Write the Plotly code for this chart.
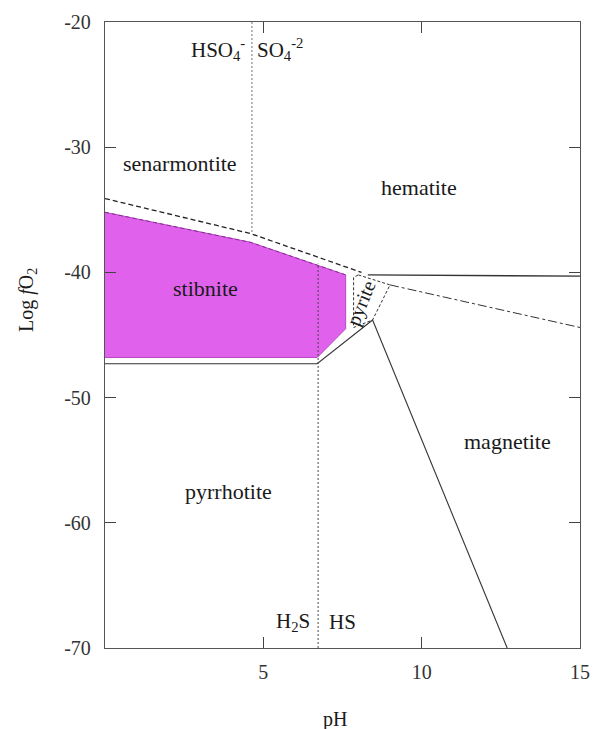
import plotly.graph_objects as go

# ---- data (pH, log fO2) ----
stibnite_ph = [0, 4.6, 7.6, 7.6, 6.7, 0]
stibnite_fo2 = [-35.2, -37.6, -40.2, -44.5, -46.8, -46.8]

senarm_ph = [0, 4.6, 8.1]
senarm_fo2 = [-34.1, -36.9, -40.0]

pyrrh_ph = [0, 6.7, 8.45]
pyrrh_fo2 = [-47.3, -47.3, -43.8]

magnet_ph = [8.45, 12.7]
magnet_fo2 = [-43.8, -70]

hemmag_ph = [8.3, 15]
hemmag_fo2 = [-40.2, -40.3]

pyrite_ph = [8.0, 9.0, 8.45, 7.85, 7.85, 8.0]
pyrite_fo2 = [-40.2, -41.0, -43.8, -44.4, -40.4, -40.2]

dashdot_ph = [9.0, 15]
dashdot_fo2 = [-41.0, -44.4]

hso4_ph = [4.64, 4.64]
hso4_fo2 = [-20, -36.9]

h2s_ph = [6.73, 6.73]
h2s_fo2 = [-70, -39.3]

labels = ["senarmontite", "hematite", "stibnite", "magnetite", "pyrrhotite"]
label_ph = [2.37, 9.9, 3.16, 12.7, 3.9]
label_fo2 = [-31.3, -33.2, -41.25, -53.5, -57.5]

x_ticks = [5, 10, 15]
x_ticktext = ["5", "10", "15"]
y_ticks = [-20, -30, -40, -50, -60, -70]
y_ticktext = ["-20", "-30", "-40", "-50", "-60", "-70"]

SERIF = "Liberation Serif"
TXT = "#1a1a1a"
fig = go.Figure()

fig.add_trace(go.Scatter(x=stibnite_ph, y=stibnite_fo2, fill="toself", fillcolor="#e062ec",
                         mode="lines", line=dict(color="#b848c4", width=1),
                         hoverinfo="skip", showlegend=False))
fig.add_trace(go.Scatter(x=stibnite_ph[:3], y=stibnite_fo2[:3], mode="lines",
                         line=dict(color="#8a2a94", width=1, dash="4px,3px"), showlegend=False))
fig.add_trace(go.Scatter(x=senarm_ph, y=senarm_fo2, mode="lines",
                         line=dict(color="#222", width=1.3, dash="5px,3px"), showlegend=False))
fig.add_trace(go.Scatter(x=pyrrh_ph, y=pyrrh_fo2, mode="lines",
                         line=dict(color="#333", width=1.1), showlegend=False))
fig.add_trace(go.Scatter(x=magnet_ph, y=magnet_fo2, mode="lines",
                         line=dict(color="#333", width=1.1), showlegend=False))
fig.add_trace(go.Scatter(x=hemmag_ph, y=hemmag_fo2, mode="lines",
                         line=dict(color="#333", width=1.4), showlegend=False))
fig.add_trace(go.Scatter(x=pyrite_ph, y=pyrite_fo2, mode="lines",
                         line=dict(color="#333", width=1, dash="3px,2px"), showlegend=False))
fig.add_trace(go.Scatter(x=dashdot_ph, y=dashdot_fo2, mode="lines",
                         line=dict(color="#333", width=1, dash="dashdot"), showlegend=False))
fig.add_trace(go.Scatter(x=hso4_ph, y=hso4_fo2, mode="lines",
                         line=dict(color="#777", width=1, dash="2px,2px"), showlegend=False))
fig.add_trace(go.Scatter(x=h2s_ph, y=h2s_fo2, mode="lines",
                         line=dict(color="#444", width=1, dash="2px,2px"), showlegend=False))

for t, px, py in zip(labels, label_ph, label_fo2):
    fig.add_annotation(x=px, y=py, text=t, showarrow=False,
                       font=dict(family=SERIF, size=22, color=TXT))

fig.add_annotation(x=8.11, y=-42.44, text="pyrite", textangle=-68, showarrow=False,
                   font=dict(family=SERIF, size=20, color=TXT))
fig.add_annotation(x=4.48, y=-22.2, text="HSO<sub>4</sub><sup>-</sup>", xanchor="right",
                   showarrow=False, font=dict(family=SERIF, size=21, color=TXT))
fig.add_annotation(x=4.74, y=-22.2, text="SO<sub>4</sub><sup>-2</sup>", xanchor="left",
                   showarrow=False, font=dict(family=SERIF, size=21, color=TXT))
fig.add_annotation(x=6.54, y=-67.9, text="H<sub>2</sub>S", xanchor="right",
                   showarrow=False, font=dict(family=SERIF, size=21, color=TXT))
fig.add_annotation(x=7.0, y=-67.9, text="HS", xanchor="left",
                   showarrow=False, font=dict(family=SERIF, size=21, color=TXT))

fig.add_annotation(xref="paper", yref="paper", x=-0.162, y=0.556,
                   xanchor="center", yanchor="middle",
                   text="Log <i>f</i>O<sub>2</sub>", textangle=-90, showarrow=False,
                   font=dict(family=SERIF, size=20, color=TXT))
fig.add_annotation(xref="paper", yref="paper", x=0.484, y=-0.115,
                   xanchor="center", yanchor="middle",
                   text="pH", showarrow=False,
                   font=dict(family=SERIF, size=20, color=TXT))

fig.update_layout(
    width=590, height=721,
    margin=dict(l=97, r=18, t=14, b=81),
    plot_bgcolor="white", paper_bgcolor="white",
    showlegend=False,
    font=dict(family=SERIF, size=20, color="#333"),
)
fig.update_xaxes(range=[0, 15], tickvals=x_ticks, ticktext=x_ticktext, automargin=False,
                 ticks="inside", ticklen=11, tickcolor="#444",
                 mirror="ticks", showline=True, linecolor="#555", linewidth=1.4,
                 showgrid=False, zeroline=False, ticklabelstandoff=6)
fig.update_yaxes(range=[-70, -20], tickvals=y_ticks, ticktext=y_ticktext, automargin=False,
                 ticks="inside", ticklen=11, tickcolor="#444",
                 mirror="ticks", showline=True, linecolor="#555", linewidth=1.4,
                 showgrid=False, zeroline=False, ticklabelstandoff=9)

fig.write_html("out.html")
